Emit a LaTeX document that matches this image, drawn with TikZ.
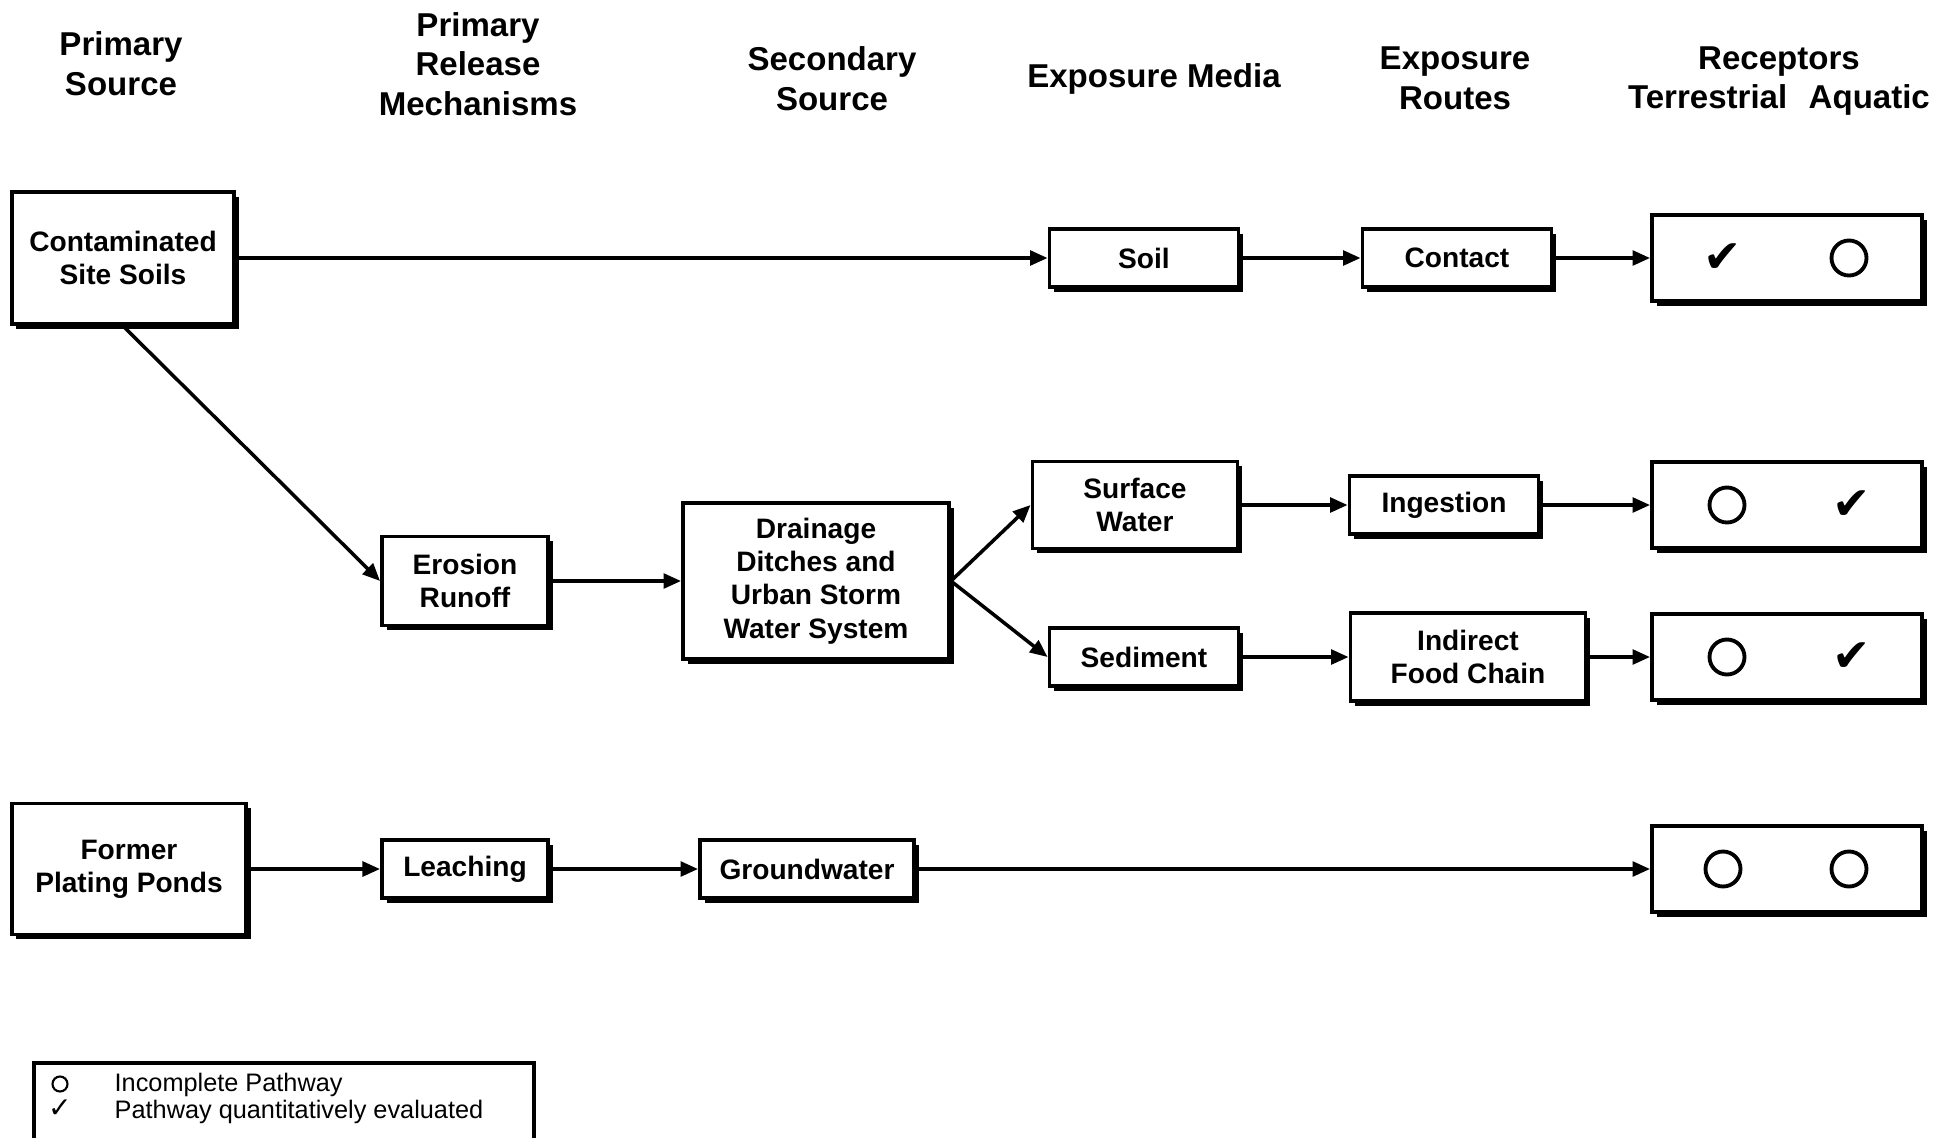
\documentclass[tikz,border=0pt]{standalone}
\usepackage{fontspec}
\setmainfont{Liberation Sans}
\newfontfamily\symfont{DejaVu Sans}
\usetikzlibrary{
		arrows.meta,
		shadows
	}
\tikzset{
		>={Triangle[length=5pt,width=4.2pt]},
		box/.style={draw, line width=1.1pt, fill=white, align=center, inner sep=0pt,
			font=\bfseries\fontsize{8}{9.5}\selectfont,
			drop shadow={shadow xshift=0.045cm, shadow yshift=-0.045cm, fill=black, opacity=1}},
		recbox/.style={box, minimum width=2.70cm, minimum height=0.86cm},
		head/.style={align=center, font=\bfseries\fontsize{9.4}{11.3}\selectfont},
		link/.style={->, line width=1pt},
		ring/.style={circle, draw, line width=1.1pt, minimum size=0.35cm, inner sep=0pt},
		tick/.style={inner sep=0pt, font=\symfont\fontsize{13}{13}\selectfont}
	}
\newcommand{\chk}{✔}

\begin{document}
\begin{tikzpicture}
          \useasboundingbox (0,0) rectangle (19.57,-11.37);

          \node[head] (hsrc) at (1.21,-0.64) {Primary\\Source};
          \node[head] (hrel) at (4.78,-0.64) {Primary\\Release\\Mechanisms};
          \node[head] (hsec) at (8.32,-0.79) {Secondary\\Source};
          \node[head] (hmed) at (11.54,-0.79) {Exposure Media};
          \node[head] (hrte) at (14.55,-0.78) {Exposure\\Routes};
          \node[head] (hrec) at (17.79,-0.81) {Receptors\\Terrestrial\hspace{0.65em}Aquatic};

          \node[box, minimum width=2.22cm, minimum height=1.32cm] (cont) at (1.23,-2.58) {Contaminated\\Site Soils};
          \node[box, minimum width=1.89cm, minimum height=0.58cm] (soil) at (11.44,-2.58) {Soil};
          \node[box, minimum width=1.89cm, minimum height=0.58cm] (cntc) at (14.57,-2.58) {Contact};
          \node[recbox] (rec1) at (17.87,-2.58) {};

          \node[box, minimum width=1.66cm, minimum height=0.89cm] (eros) at (4.65,-5.81) {Erosion\\Runoff};
          \node[box, minimum width=2.66cm, minimum height=1.56cm] (drain) at (8.16,-5.81) {Drainage\\Ditches and\\Urban Storm\\Water System};
          \node[box, minimum width=2.05cm, minimum height=0.87cm] (surf) at (11.35,-5.05) {Surface\\Water};
          \node[box, minimum width=1.89cm, minimum height=0.58cm] (ingst) at (14.44,-5.05) {Ingestion};
          \node[recbox] (rec2) at (17.87,-5.05) {};
          \node[box, minimum width=1.89cm, minimum height=0.58cm] (sed) at (11.44,-6.57) {Sediment};
          \node[box, minimum width=2.35cm, minimum height=0.88cm] (food) at (14.68,-6.57) {Indirect\\Food Chain};
          \node[recbox] (rec3) at (17.87,-6.57) {};

          \node[box, minimum width=2.34cm, minimum height=1.31cm] (pond) at (1.29,-8.69) {Former\\Plating Ponds};
          \node[box, minimum width=1.66cm, minimum height=0.58cm] (leach) at (4.65,-8.69) {Leaching};
          \node[box, minimum width=2.14cm, minimum height=0.58cm] (gw) at (8.07,-8.69) {Groundwater};
          \node[recbox] (rec4) at (17.87,-8.69) {};

          \node[tick] (t1) at ([xshift=-0.64cm]rec1.center) {\chk};
          \node[ring] (a1) at ([xshift=0.62cm]rec1.center) {};
          \node[ring] (t2) at ([xshift=-0.60cm]rec2.center) {};
          \node[tick] (a2) at ([xshift=0.65cm]rec2.center) {\chk};
          \node[ring] (t3) at ([xshift=-0.60cm]rec3.center) {};
          \node[tick] (a3) at ([xshift=0.65cm]rec3.center) {\chk};
          \node[ring] (t4) at ([xshift=-0.64cm]rec4.center) {};
          \node[ring] (a4) at ([xshift=0.62cm]rec4.center) {};

          \draw[link] (cont) -- (soil);
          \draw[link] (soil) -- (cntc);
          \draw[link] (cntc) -- (rec1);
          \draw[link] (cont.south) -- (eros.west);
          \draw[link] (eros) -- (drain);
          \draw[link] (drain.east) -- (surf.west);
          \draw[link] (drain.east) -- (sed.west);
          \draw[link] (surf) -- (ingst);
          \draw[link] (ingst) -- (rec2);
          \draw[link] (sed) -- (food);
          \draw[link] (food) -- (rec3);
          \draw[link] (pond) -- (leach);
          \draw[link] (leach) -- (gw);
          \draw[link] (gw) -- (rec4);

          \draw[line width=1pt] (0.34,-11.45) rectangle (5.34,-10.63);
          \node[circle, draw, line width=0.6pt, minimum width=0.15cm, minimum height=0.15cm, inner sep=0pt] (lring) at (0.60,-10.84) {};
          \node[inner sep=0pt, font=\symfont\fontsize{8}{8}\selectfont] (ltick) at (0.60,-11.09) {✓};
          \node[anchor=west, align=left, inner sep=0pt, font=\fontsize{7.2}{7.7}\selectfont] (ltext) at (1.14,-10.98) {Incomplete Pathway\\Pathway quantitatively evaluated};

          \end{tikzpicture}
\end{document}
